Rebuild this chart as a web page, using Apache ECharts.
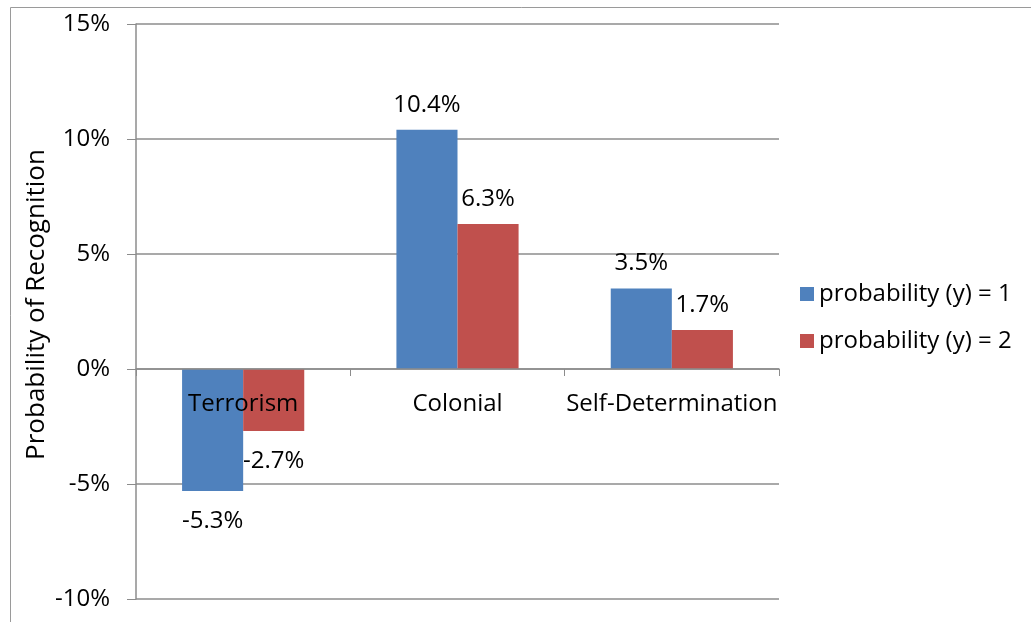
<!DOCTYPE html>
<html lang="en">
<head>
    <meta charset="UTF-8">
    <title>Probability of Recognition</title>
    <script src="https://cdn.jsdelivr.net/npm/echarts@6/dist/echarts.min.js"></script>
    <style>
        html, body { margin: 0; padding: 0; background: #fff; }
        #main { width: 1031px; height: 622px; }
    </style>
</head>
<body>
<div id="main"></div>
<script>
    // categories and values (percent)
    var categories = ['Terrorism', 'Colonial', 'Self-Determination'];
    var prob1 = [-5.3, 10.4, 3.5];
    var prob2 = [-2.7, 6.3, 1.7];
    var seriesNames = ['probability (y) = 1', 'probability (y) = 2'];
    var yMin = -10, yMax = 15, yStep = 5;

    var FONT = 'Open Sans';
    var FS = 24;
    var gray = '#8c8c8c';

    var gridTop = 24, gridBottom = 23, H = 622;
    // category axis sits on the zero line (v6 keeps labels at the bottom with onZero)
    var plotH = H - gridTop - gridBottom;
    var zeroOffset = -plotH * (0 - yMin) / (yMax - yMin);

    // negative bars get their label underneath
    function withLabels(arr) {
        return arr.map(function (v) {
            return {
                value: v,
                label: v < 0 ? { position: 'bottom', distance: 18 } : { position: 'top', distance: 13 }
            };
        });
    }

    var barLabel = {
        show: true,
        fontFamily: FONT,
        fontSize: FS,
        color: '#000',
        formatter: function (p) {
            return p.value.toFixed(1) + '%';
        }
    };

    var myChart = echarts.init(document.getElementById('main'));
    var option = {
        animation: false,
        textStyle: { fontFamily: FONT },
        // outer frame (only top and left edge visible)
        graphic: [{
            type: 'rect',
            shape: { x: 10.5, y: 7.5, width: 1200, height: 800 },
            style: { fill: 'none', stroke: '#9a9a9a', lineWidth: 1 }
        }],
        grid: { left: 136, right: 252, top: gridTop, bottom: gridBottom, outerBoundsMode: 'none', containLabel: false },
        legend: {
            orient: 'vertical',
            left: 795,
            top: 277,
            itemWidth: 14,
            itemHeight: 14,
            itemGap: 23,
            icon: 'rect',
            textStyle: { fontFamily: FONT, fontSize: FS, color: '#000' },
            data: seriesNames
        },
        xAxis: {
            type: 'category',
            data: categories,
            position: 'bottom',
            offset: zeroOffset,
            axisLine: { onZero: false, lineStyle: { color: gray, width: 1.5 } },
            axisTick: { show: true, length: 7, lineStyle: { color: gray } },
            axisLabel: { interval: 0, margin: 23, fontFamily: FONT, fontSize: FS, color: '#000' },
            z: 5
        },
        yAxis: {
            type: 'value',
            min: yMin,
            max: yMax,
            interval: yStep,
            name: 'Probability of Recognition',
            nameLocation: 'middle',
            nameRotate: 90,
            nameGap: 86,
            nameMoveOverlap: false,
            nameTextStyle: { fontFamily: FONT, fontSize: 26, color: '#000', padding: [0, 0, 0, 14] },
            axisLine: { show: true, lineStyle: { color: gray, width: 1.5 } },
            axisTick: { show: true, length: 9, lineStyle: { color: gray } },
            axisLabel: { margin: 26, fontFamily: FONT, fontSize: FS, color: '#000', formatter: '{value}%' },
            splitLine: { show: true, lineStyle: { color: gray, width: 1.5 } }
        },
        series: [{
            name: seriesNames[0],
            type: 'bar',
            data: withLabels(prob1),
            barGap: '0%',
            barCategoryGap: '43%',
            itemStyle: { color: '#4F81BD' },
            label: barLabel
        }, {
            name: seriesNames[1],
            type: 'bar',
            data: withLabels(prob2),
            itemStyle: { color: '#C0504D' },
            label: barLabel
        }]
    };
    myChart.setOption(option);
</script>
</body>
</html>
